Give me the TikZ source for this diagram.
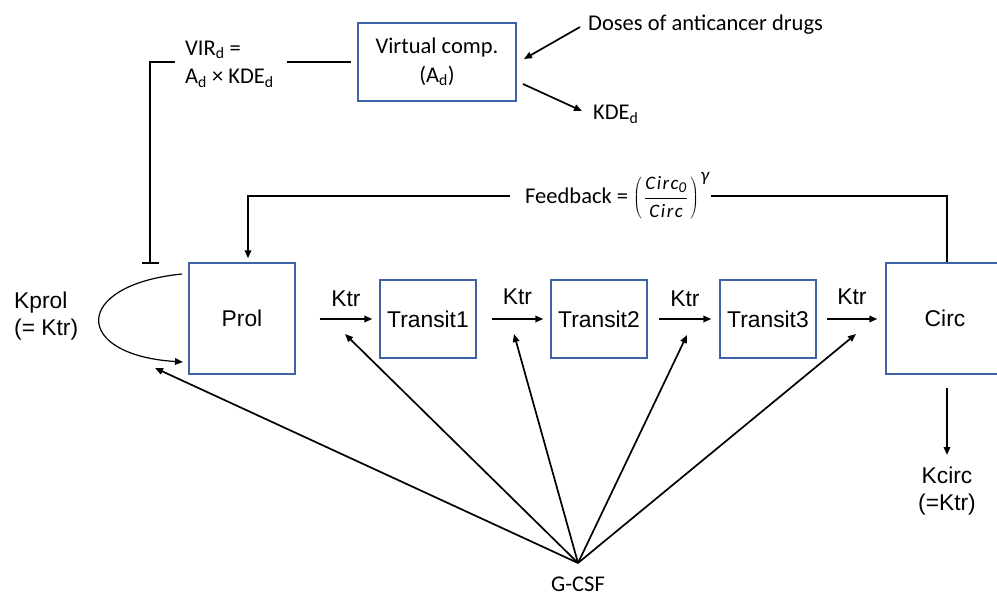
\documentclass[tikz,border=0pt]{standalone}
\usepackage{fontspec}
\setmainfont{Carlito}
\newfontfamily\arialf{Liberation Sans}
\newfontfamily\fbfont[LetterSpace=8]{Carlito}
\usetikzlibrary{arrows.meta}
\definecolor{boxblue}{RGB}{62,98,168}
\newcommand{\fbit}[2]{\mbox{\fbfont\fontsize{#1}{#1}\selectfont\itshape #2}}
\begin{document}
\begin{tikzpicture}[x=1pt,y=-1pt,
  box/.style={draw=boxblue, line width=1.4pt, inner sep=0pt, font=\arialf\fontsize{22.8}{27}\selectfont},
  cal/.style={font=\fontsize{22.5}{28.5}\selectfont, inner sep=0pt},
  ar/.style={font=\arialf\fontsize{22.8}{27.5}\selectfont, inner sep=0pt},
  con/.style={line width=1.7pt},
  arr/.style={con, -{Triangle[length=8pt,width=6.5pt]}}]
\useasboundingbox (0,0) rectangle (997,596);
\clip (0,0) rectangle (997,596);

% boxes
\node[box, minimum width=106pt, minimum height=111pt] (prol) at (242,318.5) {Prol};
\node[box, minimum width=96pt, minimum height=78pt] (t1) at (428,319) {Transit1};
\node[box, minimum width=96pt, minimum height=78pt] (t2) at (599,319) {Transit2};
\node[box, minimum width=96pt, minimum height=78pt] (t3) at (768,319) {Transit3};
\node[box, minimum width=118pt, minimum height=111pt] (circ) at (945,318.5) {Circ};
\node[box, cal, minimum width=158pt, minimum height=78pt, align=center] (vc) at (437,62)
  {Virtual comp.\\(A\textsubscript{d})};

% texts
\node[cal, anchor=west, align=left] (vir) at (185,64) {VIR\textsubscript{d} =\\A\textsubscript{d} × KDE\textsubscript{d}};
\node[cal, anchor=west] (dose) at (588,25) {Doses of anticancer drugs};
\node[cal, anchor=west] (kde) at (593,114) {KDE\textsubscript{d}};
\node[cal, anchor=west, inner xsep=0pt] (fb) at (525,196) {Feedback = $\displaystyle\left(\mkern2mu\frac{\fbit{19}{Circ}_{\fbit{15}{0}}}{\fbit{19}{Circ}}\mkern2mu\right)^{\mkern2mu\fbit{19}{γ}}$};
\node[ar, anchor=west, align=left] (kprol) at (14,316) {Kprol\\(= Ktr)};
\node[ar, align=center] (kcirc) at (947,491) {Kcirc\\(=Ktr)};
\node[cal] (gcsf) at (578,584) {G-CSF};

% coordinates
\coordinate (inh) at (150,264);
\coordinate (brk) at (150,62);
\coordinate (dos1) at (580,27);
\coordinate (dos2) at (524,59);
\coordinate (kd1) at (523,84);
\coordinate (kd2) at (582,111);
\coordinate (loopA) at (182,274);
\coordinate (loopB) at (183,362);
\coordinate (apex) at (578,563);
\coordinate (g1) at (155,368);
\coordinate (g2) at (345,334);
\coordinate (g3) at (514,334);
\coordinate (g4) at (687,335);
\coordinate (g5) at (856,334);
\coordinate (cd1) at (947,388);
\coordinate (cd2) at (947,455);

% top part
\draw[con] (287,62) -- ([xshift=-6pt]vc.west);
\draw[con, -{Bar[width=17pt,line width=1.7pt]}] (175,62) -- (brk) -- (inh);
\draw[arr] (dos1) -- (dos2);
\draw[arr] (kd1) -- (kd2);

% feedback
\draw[con] (circ.north -| cd1) -- (cd1 |- fb.center) -- ([xshift=1pt]fb.east |- fb.center);
\draw[arr, shorten >=4pt] ([xshift=-15pt]fb.west) -| ([xshift=6pt]prol.north);

% Kprol loop
\draw[line width=1.2pt, -{Triangle[length=8pt,width=6.5pt]}] (loopA) .. controls (72,285) and (72,355) .. (loopB);

% Ktr arrows
\draw[arr] ([xshift=24pt]prol.east |- t1.west) -- node[ar, yshift=20pt] (k1) {Ktr} ([xshift=-7pt]t1.west);
\draw[arr] ([xshift=15pt]t1.east) -- node[ar, yshift=22pt] (k2) {Ktr} ([xshift=-7pt]t2.west);
\draw[arr] ([xshift=11pt]t2.east) -- node[ar, yshift=20pt] (k3) {Ktr} ([xshift=-8pt]t3.west);
\draw[arr] ([xshift=10pt]t3.east) -- node[ar, yshift=22pt] (k4) {Ktr} ([xshift=-8pt]circ.west |- t3.east);

% circ outflow
\draw[arr] (cd1) -- (cd2);

% G-CSF
\foreach \g in {g1,g2,g3,g4,g5} \draw[arr] (apex) -- (\g);
\end{tikzpicture}
\end{document}
